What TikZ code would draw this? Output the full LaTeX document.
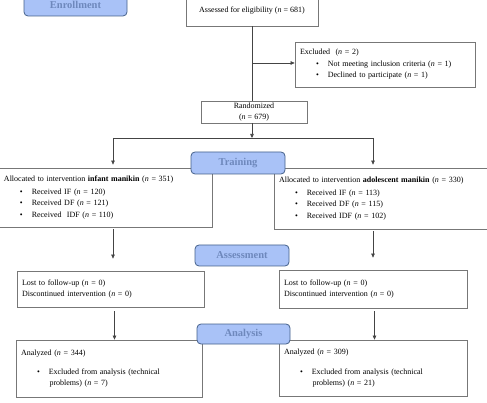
\documentclass[tikz,border=0pt]{standalone}
\usepackage{fontspec}
\setmainfont{Liberation Serif}
\usetikzlibrary{arrows.meta}
\definecolor{stagefill}{HTML}{A9C2F7}
\definecolor{stageborder}{HTML}{44608A}
\definecolor{stagetext}{HTML}{6E88BC}
\definecolor{boxborder}{HTML}{777777}
\definecolor{darkline}{HTML}{444444}
\newcommand{\bitem}[1]{\hspace*{16pt}\textbullet\hspace*{9pt}#1}
\newcommand{\bcont}[1]{\hspace*{28.5pt}#1}
\tikzset{
  box/.style={rectangle, draw=boxborder, fill=white, line width=0.7pt, align=left, inner xsep=5pt, inner ysep=2pt, font=\fontsize{8}{11.5}\selectfont},
  cbox/.style={box, align=center},
  stage/.style={rectangle, rounded corners=4pt, draw=stageborder, fill=stagefill, line width=0.8pt, text=stagetext, font=\fontsize{10.5}{12}\selectfont\bfseries, inner sep=0pt},
  flow/.style={-{Triangle[length=4pt,width=3.5pt]}, line width=0.6pt, draw=darkline},
  link/.style={line width=0.6pt, draw=darkline}
}
\begin{document}
\begin{tikzpicture}[x=1pt,y=-1pt]
\useasboundingbox (0,0) rectangle (487,403);

% enrollment
\node[cbox, minimum width=132pt, minimum height=30pt] (assessed) at (252,11) {Assessed for eligibility (\textit{n} = 681)};
\node[box, text width=170pt, minimum height=45pt] (excluded) at (385,64.5) {Excluded\ \ (\textit{n} = 2)\\
\bitem{Not meeting inclusion criteria (\textit{n} = 1)}\\
\bitem{Declined to participate (\textit{n} = 1)}};
\node[cbox, minimum width=106pt, minimum height=22pt, font=\fontsize{8}{10.3}\selectfont] (random) at (254,112) {Randomized\\(\textit{n} = 679)};

% allocation
\node[box, text width=203pt, minimum height=59pt] (allocL) at (105.5,197.5) {Allocated to intervention \textbf{infant manikin} (\textit{n} = 351)\\[1.5pt]
\bitem{Received IF (\textit{n} = 120)}\\
\bitem{Received DF (\textit{n} = 121)}\\
\bitem{Received\ \ IDF (\textit{n} = 110)}};
\node[box, text width=205pt, minimum height=61pt] (allocR) at (381.5,198.5) {Allocated to intervention \textbf{adolescent manikin} (\textit{n} = 330)\\[1.5pt]
\bitem{Received IF (\textit{n} = 113)}\\
\bitem{Received DF (\textit{n} = 115)}\\
\bitem{Received IDF (\textit{n} = 102)}};

% follow-up
\node[box, text width=177pt, minimum height=36pt, font=\fontsize{8}{11}\selectfont] (lostL) at (110.5,289) {Lost to follow-up (\textit{n} = 0)\\Discontinued intervention (\textit{n} = 0)};
\node[box, text width=178pt, minimum height=38pt, font=\fontsize{8}{11}\selectfont] (lostR) at (373,289) {Lost to follow-up (\textit{n} = 0)\\Discontinued intervention (\textit{n} = 0)};

% analysis
\node[box, text width=176pt, minimum height=57pt, font=\fontsize{8}{10.7}\selectfont] (analyzedL) at (109,368.5) {Analyzed (\textit{n} = 344)\\[9pt]
\bitem{Excluded from analysis (technical}\\
\bcont{problems) (\textit{n} = 7)}};
\node[box, text width=178pt, minimum height=56pt, font=\fontsize{8}{10.7}\selectfont] (analyzedR) at (373,368) {Analyzed (\textit{n} = 309)\\[9pt]
\bitem{Excluded from analysis (technical}\\
\bcont{problems) (\textit{n} = 21)}};

% connectors
\coordinate (split) at (252,138);
\coordinate (splitL) at (113,138);
\coordinate (splitR) at (373,138);
\coordinate (branch) at (252,63);
\draw[link] (assessed.south -| branch) -- (random.north -| branch);
\draw[flow] (branch) -- (excluded.west |- branch);
\draw[flow] (random.south -| split) -- (split);
\draw[link] (splitL) -- (splitR);
\draw[flow, shorten >=3pt] (splitL) -- (splitL |- allocL.north);
\draw[flow, shorten >=3pt] (splitR) -- (splitR |- allocR.north);
\draw[flow, shorten <=2pt, shorten >=12pt] (allocL.south -| splitL) -- (lostL.north -| splitL);
\draw[flow, shorten <=2pt, shorten >=12pt] (allocR.south -| splitR) -- (lostR.north -| splitR);
\draw[flow, shorten <=4pt] ([xshift=1.5pt]lostL.south -| splitL) -- ([xshift=1.5pt]analyzedL.north -| splitL);
\draw[flow, shorten <=3pt] ([xshift=1.5pt]lostR.south -| splitR) -- ([xshift=1.5pt]analyzedR.north -| splitR);

% stage labels
\node[stage, minimum width=103pt, minimum height=22pt] (enroll) at (75.5,5) {Enrollment};
\node[stage, minimum width=94pt, minimum height=22pt] (training) at (238,163) {Training};
\node[stage, minimum width=94pt, minimum height=21pt] (assess) at (242,255.5) {Assessment};
\node[stage, minimum width=93pt, minimum height=20pt] (analysis) at (243.5,334) {Analysis};
\end{tikzpicture}
\end{document}
